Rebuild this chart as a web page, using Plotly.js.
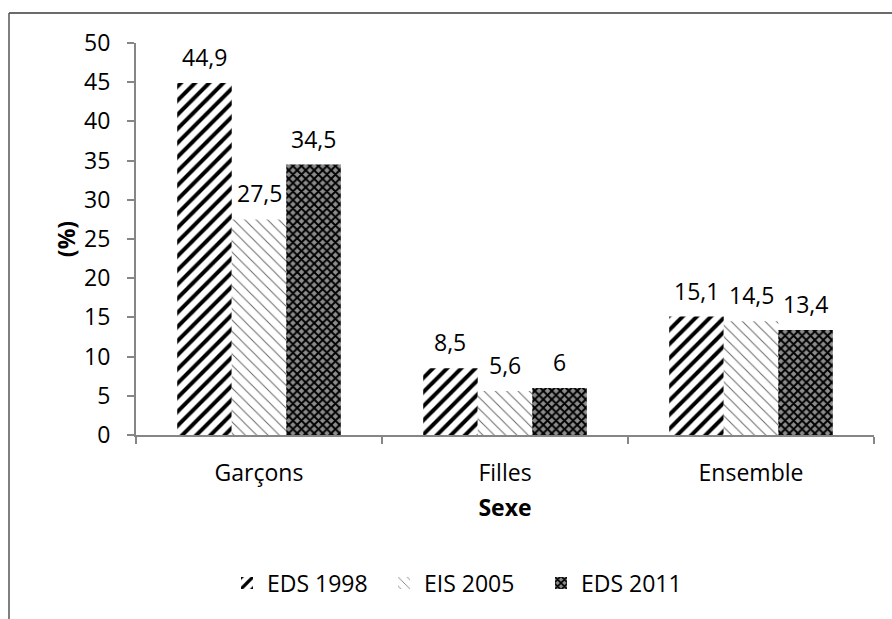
<!DOCTYPE html>
<html>
<head>
<meta charset="utf-8">
<script src="https://cdn.plot.ly/plotly-3.0.1.min.js"></script>
<style>
  html, body { margin: 0; padding: 0; background: #fff; }
  #chart { width: 892px; height: 619px; }
</style>
</head>
<body>
<div id="chart"></div>
<script>
// ---- data ----
const categories = ["Garçons", "Filles", "Ensemble"];
const seriesNames = ["EDS 1998", "EIS 2005", "EDS 2011"];
const eds1998 = [44.9, 8.5, 15.1];
const eis2005 = [27.5, 5.6, 14.5];
const eds2011 = [34.5, 6, 13.4];
const yTicks = [0, 5, 10, 15, 20, 25, 30, 35, 40, 45, 50];

const allSeries = [eds1998, eis2005, eds2011];
const patterns = [
  {shape: "/", fgcolor: "#000000", bgcolor: "#ffffff", size: 10, solidity: 0.4, fillmode: "replace"},
  {shape: "\\", fgcolor: "#666666", bgcolor: "#ffffff", size: 8, solidity: 0.12, fillmode: "replace"},
  {shape: "x", fgcolor: "#000000", bgcolor: "#8c8c8c", size: 6, solidity: 0.55, fillmode: "replace"}
];

const fmt = v => String(v).replace(".", ",");
const FONT = "Open Sans, Noto Sans, DejaVu Sans, sans-serif";
const FS = 23;
const bargap = 0.335;

const traces = allSeries.map((vals, i) => ({
  type: "bar",
  name: seriesNames[i],
  x: categories,
  y: vals,
  marker: {color: "#ffffff", pattern: patterns[i], line: {width: 0}},
  hoverinfo: "skip"
}));

// data labels placed via the axis scales (category index + bar offset)
const nS = allSeries.length;
const barW = (1 - bargap) / nS;
const annotations = [];
allSeries.forEach((vals, i) => {
  vals.forEach((v, j) => {
    annotations.push({
      x: j + (i - (nS - 1) / 2) * barW,
      y: v,
      xref: "x", yref: "y",
      text: fmt(v),
      showarrow: false,
      yanchor: "bottom",
      yshift: 8,
      font: {family: FONT, size: FS, color: "#000"}
    });
  });
});

// outer frame (top and left edges) in paper coords
const L = 136, R = 18, T = 43, B = 184, W = 892, H = 619;
const pw = W - L - R, ph = H - T - B;
const px = v => (v - L) / pw;
const py = v => (H - B - v) / ph;
const shapes = [
  {type: "line", xref: "paper", yref: "paper", x0: px(9), x1: px(892), y0: py(13), y1: py(13), line: {color: "#3a3a3a", width: 1.5}},
  {type: "line", xref: "paper", yref: "paper", x0: px(9), x1: px(9), y0: py(13), y1: py(619), line: {color: "#555555", width: 1.5}}
];

const layout = {
  width: W, height: H,
  margin: {l: L, r: R, t: T, b: B, pad: 0},
  paper_bgcolor: "#ffffff",
  plot_bgcolor: "#ffffff",
  barmode: "group",
  bargap: bargap,
  bargroupgap: 0,
  font: {family: FONT, size: FS, color: "#000"},
  showlegend: true,
  legend: {
    orientation: "h",
    x: px(227), xanchor: "left",
    y: py(583), yanchor: "middle",
    font: {family: FONT, size: FS, color: "#000"},
    itemwidth: 30,
    entrywidth: 112,
    entrywidthmode: "pixels",
    traceorder: "normal"
  },
  xaxis: {
    type: "category",
    showline: true, linecolor: "#868686", linewidth: 2,
    ticks: "outside", tickson: "boundaries", ticklen: 7, tickcolor: "#868686", tickwidth: 2,
    showgrid: false, zeroline: false,
    tickfont: {family: FONT, size: FS, color: "#000"},
    ticklabelstandoff: 16,
    title: {text: "<b>Sexe</b>", font: {family: FONT, size: FS, color: "#000"}, standoff: 13},
    automargin: false
  },
  yaxis: {
    range: [0, 50],
    tickvals: yTicks,
    ticktext: yTicks.map(String),
    showline: true, linecolor: "#868686", linewidth: 2,
    ticks: "outside", ticklen: 7, tickcolor: "#868686", tickwidth: 2,
    showgrid: false, zeroline: false,
    tickfont: {family: FONT, size: FS, color: "#000"},
    ticklabelstandoff: 12,
    title: {text: "<b>(%)</b>", font: {family: FONT, size: FS, color: "#000"}, standoff: 2},
    automargin: false
  },
  annotations: annotations,
  shapes: shapes
};

Plotly.newPlot("chart", traces, layout, {displayModeBar: false, staticPlot: true});
</script>
</body>
</html>
